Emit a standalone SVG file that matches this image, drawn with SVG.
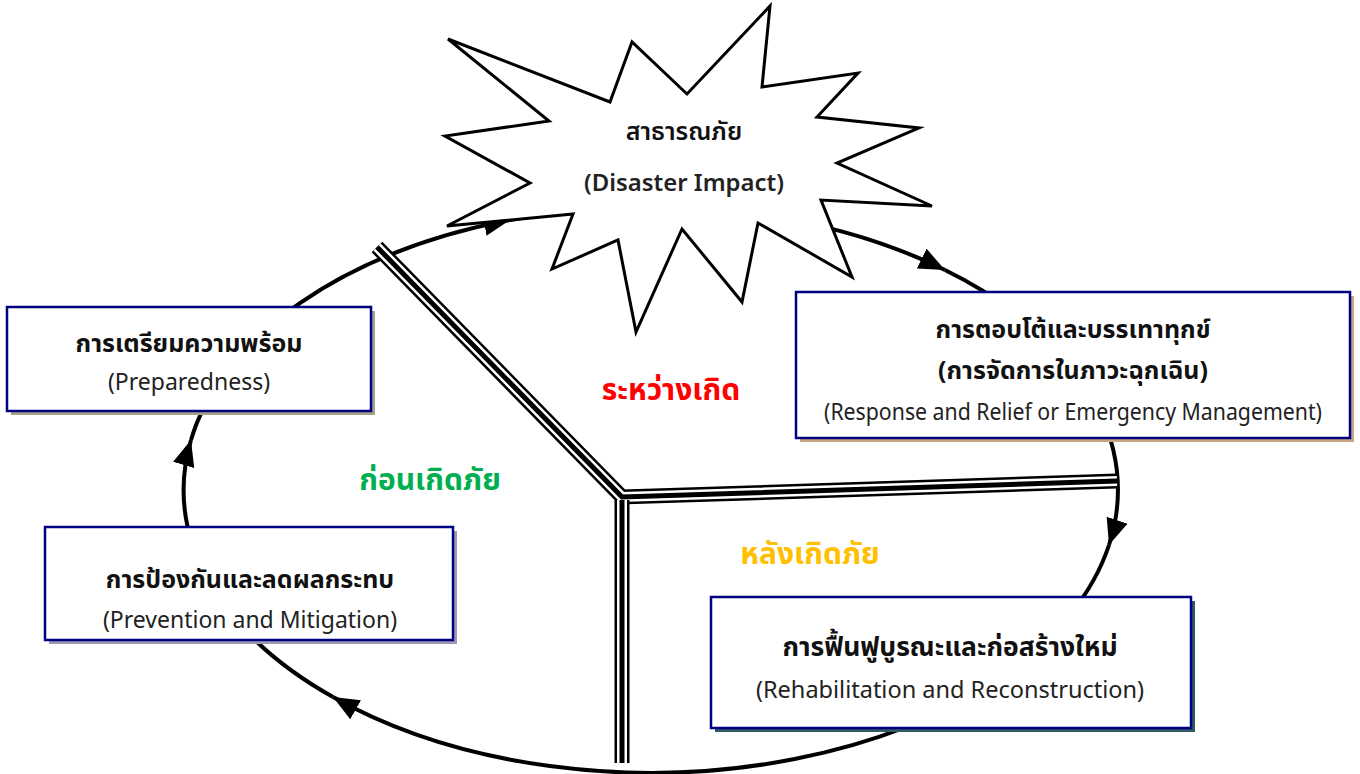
<svg xmlns="http://www.w3.org/2000/svg" width="1360" height="774" viewBox="0 0 1360 774">
<style>
.box{fill:#ffffff;stroke:#000080;stroke-width:2.5}
.th{font-family:"Noto Sans Thai","Noto Sans","DejaVu Sans",sans-serif;text-anchor:middle;fill:#111}
.thb{font-weight:bold;font-size:25px}
.en{font-family:"Noto Sans","Open Sans",sans-serif;text-anchor:middle;fill:#222;font-size:23px}
.lab{font-family:"Noto Sans Thai","Noto Sans",sans-serif;text-anchor:middle;font-weight:bold;font-size:30px}
.cyc{fill:none;stroke:#000;stroke-width:4;marker-end:url(#arr)}
.d1{fill:none;stroke:#000;stroke-width:15;stroke-linejoin:miter}
.d2{fill:none;stroke:#fff;stroke-width:10;stroke-linejoin:miter}
.d3{fill:none;stroke:#000;stroke-width:5;stroke-linejoin:miter}
</style>
<defs>
<marker id="arr" markerUnits="userSpaceOnUse" markerWidth="28" markerHeight="24" refX="26" refY="11" orient="auto">
<path d="M0,0 L26,11 L0,22 Z" fill="#000"/>
</marker>
</defs>
<rect width="1360" height="774" fill="#fff"/>
<g id="connectors">
<path class="cyc" d="M191,440 A467,283 0 0 1 510,220"/>
<path class="cyc" d="M510,220 A467,283 0 0 1 945,270"/>
<path class="cyc" d="M945,270 A467,283 0 0 1 1109,545"/>
<path class="cyc" d="M1109,545 A467,283 0 0 1 333,697"/>
<path class="cyc" d="M333,697 A467,283 0 0 1 191,440"/>
</g>
<g id="dividers">
<polyline class="d1" points="377,247 622,497 1117,481"/>
<polyline class="d2" points="377,247 622,497 1117,481"/>
<polyline class="d3" points="377,247 622,497 1117,481"/>
<line class="d1" x1="622" y1="500" x2="622" y2="763"/>
<line class="d2" x1="622" y1="500" x2="622" y2="763"/>
<line class="d3" x1="622" y1="500" x2="622" y2="763"/>
</g>
<g id="disaster">
<polygon points="448,39 610,102 632,42 687,94 770,6 762,87 858,73 817,117 919,128 837,163 932,206 821,200 852,277 758,223 742,302 682,229 636,332 618,240 552,269 573,214 447,226 530,183 445,136 549,121" fill="#fff" stroke="#000" stroke-width="3" stroke-linejoin="miter"/>
<text class="th" x="684" y="140" font-size="25" font-weight="600">สาธารณภัย</text>
<text class="en" x="684" y="191" font-size="24" fill="#111" font-weight="600" textLength="200" lengthAdjust="spacingAndGlyphs">(Disaster Impact)</text>
</g>
<g id="preparedness">
<rect x="11" y="311" width="364" height="104" fill="#a3a38a"/>
<rect class="box" x="7" y="307" width="364" height="104"/>
<text class="th thb" x="189" y="352">การเตรียมความพร้อม</text>
<text class="en" x="189" y="390">(Preparedness)</text>
</g>
<g id="response">
<rect x="800" y="296" width="554" height="146" fill="#c9a585"/>
<rect class="box" x="796" y="292" width="554" height="146"/>
<text class="th thb" x="1073" y="338">การตอบโต้และบรรเทาทุกข์</text>
<text class="th thb" x="1073" y="379">(การจัดการในภาวะฉุกเฉิน)</text>
<text class="en" x="1073" y="420" textLength="498" lengthAdjust="spacingAndGlyphs">(Response and Relief or Emergency Management)</text>
</g>
<g id="prevention">
<rect x="49" y="531" width="408" height="113" fill="#9d98b3"/>
<rect class="box" x="45" y="527" width="408" height="113"/>
<text class="th thb" x="250" y="588">การป้องกันและลดผลกระทบ</text>
<text class="en" x="250" y="628">(Prevention and Mitigation)</text>
</g>
<g id="rehabilitation">
<rect x="715" y="601" width="480" height="131" fill="#2f5a66"/>
<rect class="box" x="711" y="597" width="480" height="131"/>
<text class="th thb" x="950" y="656" style="font-size:26.5px">การฟื้นฟูบูรณะและก่อสร้างใหม่</text>
<text class="en" x="950" y="698" style="font-size:23.5px">(Rehabilitation and Reconstruction)</text>
</g>
<g id="phase-labels">
<text class="lab" x="671" y="400" fill="#ff0000">ระหว่างเกิด</text>
<text class="lab" x="430" y="490" fill="#00b050">ก่อนเกิดภัย</text>
<text class="lab" x="810" y="564" fill="#ffc000">หลังเกิดภัย</text>
</g>
</svg>
